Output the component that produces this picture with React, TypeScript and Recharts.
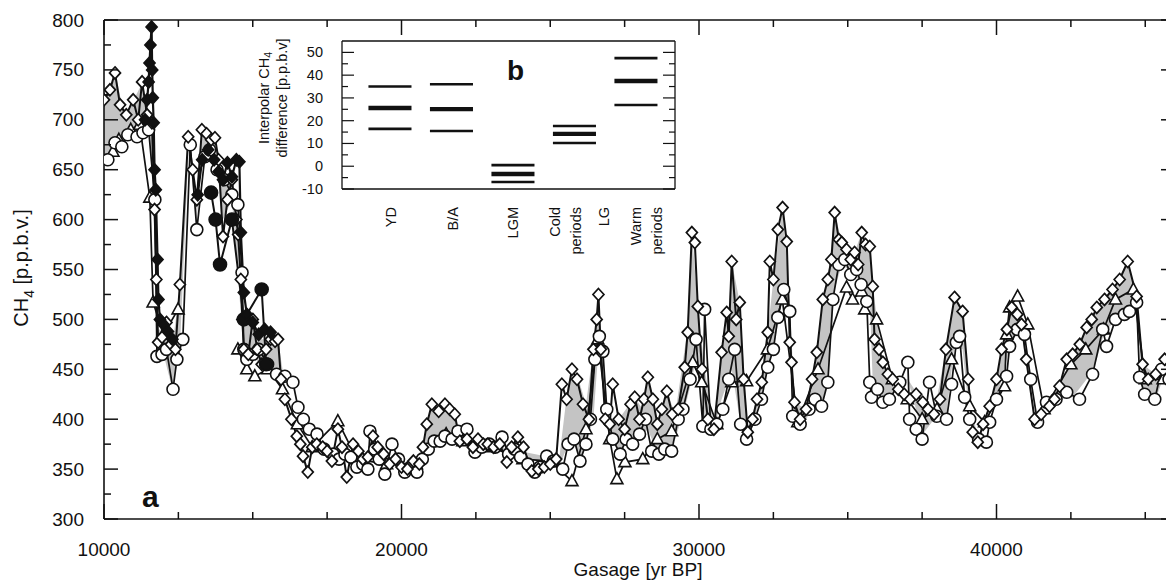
import React from 'react'
import { ComposedChart, Line, Area, XAxis, YAxis, ReferenceLine } from 'recharts'

const FONT = '"Liberation Sans", Arial, Helvetica, sans-serif'
const INK = '#111'

type Pt = [number, number | null]

// gas age [yr BP], CH4 [p.p.b.v.] -- Greenland record (open diamonds)
const greenland: Pt[] = [
  [10000, 720], [10200, 730], [10370, 747], [10540, 715], [10750, 705], [10980, 720], [11150, 700], [11280, 738],
  [11450, 705], [11610, 697], [11700, 610], [11760, 540], [11820, 477], [11950, 482], [12100, 497], [12250, 475],
  [12400, 470], [12550, 535], [12830, 683], [12980, 650], [13120, 620], [13290, 690], [13450, 686], [13600, 680],
  [13730, 682], [13850, 660], [14000, 583], [14150, 620], [14300, 640], [14450, 600], [14510, 585], [14600, 540],
  [14650, 500], [14700, 470], [14850, 465], [15000, 500], [15150, 470], [15300, 455], [15450, 470], [15600, 480],
  [15750, 478], [15850, 480], [15950, 440], [16080, 420], [16300, 400], [16480, 383], [16600, 375], [16690, 363],
  [16850, 347], [17000, 372], [17150, 375], [17350, 372], [17500, 368], [17660, 358], [17860, 390], [18000, 372],
  [18160, 342], [18370, 375], [18550, 368], [18700, 360], [18870, 362], [19040, 383], [19200, 372], [19400, 365],
  [19600, 355], [19800, 360], [20000, 352], [20200, 350], [20400, 358], [20600, 355], [20720, 372], [20850, 395],
  [21020, 415], [21250, 408], [21460, 415], [21620, 410], [21790, 405], [21960, 378], [22200, 380], [22400, 372],
  [22570, 380], [22750, 375], [22900, 375], [23100, 372], [23300, 375], [23540, 357], [23700, 372], [23910, 382],
  [24100, 372], [24380, 348], [24600, 350], [24800, 352], [25000, 355], [25200, 360], [25390, 435], [25550, 420],
  [25730, 450], [25900, 440], [26100, 415], [26300, 400], [26450, 470], [26560, 500], [26620, 525], [26700, 470],
  [26850, 400], [27000, 395], [27100, 435], [27300, 400], [27500, 390], [27700, 415], [27840, 422], [28000, 400],
  [28150, 420], [28280, 442], [28450, 420], [28600, 395], [28750, 410], [28920, 428], [29100, 405], [29300, 410],
  [29520, 452], [29620, 487], [29760, 587], [29860, 577], [29960, 513], [30100, 450], [30300, 400], [30500, 390],
  [30760, 467], [30930, 507], [31000, 483], [31100, 558], [31250, 500], [31370, 517], [31500, 440], [31640, 387],
  [31800, 400], [31950, 420], [32110, 437], [32310, 487], [32380, 558], [32500, 540], [32650, 590], [32810, 612],
  [32950, 578], [33050, 477], [33110, 457], [33210, 417], [33400, 400], [33600, 410], [33800, 440], [33960, 467],
  [34160, 520], [34330, 540], [34450, 560], [34560, 607], [34700, 580], [34800, 577], [34960, 570], [35100, 560],
  [35230, 567], [35350, 555], [35470, 587], [35600, 575], [35740, 573], [35840, 533], [35900, 480], [36050, 470],
  [36180, 457], [36350, 445], [36510, 440], [36700, 430], [36900, 425], [37100, 420], [37300, 425], [37520, 417],
  [37700, 410], [37900, 405], [38100, 420], [38300, 470], [38590, 522], [38860, 508], [39050, 440], [39200, 387],
  [39370, 377], [39550, 395], [39770, 413], [40000, 440], [40170, 470], [40350, 490], [40510, 512], [40700, 505],
  [40840, 495], [41000, 460], [41280, 400], [41500, 405], [41780, 413], [41950, 420], [42120, 433], [42360, 460],
  [42560, 465], [42800, 475], [43030, 492], [43200, 500], [43370, 512], [43630, 520], [43900, 530], [44140, 540],
  [44410, 558], [44710, 523], [44910, 455], [45100, 440], [45350, 445], [45650, 460], [46000, 455],
]

// high resolution Greenland data (filled diamonds)
const greenlandHiRes: Pt[] = [
  [11380, 700], [11450, 720], [11500, 738], [11530, 757], [11560, 775], [11600, 793], [11620, 750], [11640, 722],
  [11670, 697], [11700, 650], [11740, 630], [11800, 560], [11830, 520], [11880, 500], [12000, 495], [12150, 488],
  [12300, 480], [12700, null], [13150, 625], [13300, 660], [13500, 670], [13700, 660], [13850, 648], [14000, 640],
  [14150, 657], [14300, 643], [14450, 660], [14550, 658], [14600, 587], [14700, 527], [14800, 505], [15000, 497],
  [15200, 485], [15400, 490], [15600, 487],
]

// Antarctic record (open circles)
const antarctic: Pt[] = [
  [10130, 660], [10370, 677], [10600, 673], [10800, 685], [11110, 683], [11310, 687], [11500, 690], [11710, 620],
  [11780, 463], [11950, 465], [12100, 470], [12320, 430], [12450, 460], [12650, 480], [12900, 675], [13120, 590],
  [13390, 663], [13550, 670], [13800, 650], [14050, 640], [14300, 625], [14500, 615], [14640, 547], [14700, 470],
  [14800, 460], [15000, 465], [15200, 470], [15500, 455], [15800, 445], [16080, 443], [16350, 437], [16520, 412],
  [16700, 400], [16900, 390], [17160, 385], [17400, 370], [17700, 365], [17900, 360], [18100, 365], [18300, 362],
  [18500, 352], [18700, 355], [18870, 350], [18940, 388], [19100, 370], [19250, 360], [19440, 345], [19680, 375],
  [19900, 360], [20110, 347], [20300, 352], [20520, 347], [20700, 360], [20900, 370], [21100, 378], [21300, 378],
  [21460, 383], [21700, 380], [21900, 388], [22200, 390], [22470, 367], [22700, 372], [22950, 375], [23150, 372],
  [23380, 382], [23600, 365], [23800, 370], [24000, 362], [24250, 355], [24480, 347], [24650, 352], [24880, 363],
  [25100, 358], [25420, 350], [25600, 375], [25800, 380], [26000, 358], [26200, 375], [26350, 400], [26500, 460],
  [26650, 483], [26770, 468], [26900, 410], [27100, 380], [27350, 365], [27550, 380], [27770, 375], [28000, 385],
  [28200, 400], [28410, 368], [28650, 365], [28850, 370], [29080, 368], [29300, 400], [29460, 410], [29700, 440],
  [29900, 480], [30130, 393], [30190, 510], [30400, 390], [30600, 395], [30800, 410], [31000, 440], [31200, 470],
  [31400, 395], [31600, 380], [31880, 400], [32100, 420], [32310, 452], [32500, 470], [32650, 502], [32850, 530],
  [33050, 508], [33150, 403], [33400, 395], [33700, 410], [33900, 420], [34120, 413], [34330, 437], [34500, 520],
  [34700, 555], [34900, 560], [35100, 545], [35300, 550], [35450, 535], [35640, 518], [35740, 437], [35800, 422],
  [36000, 430], [36180, 417], [36400, 420], [36750, 437], [37020, 457], [37080, 400], [37300, 390], [37500, 380],
  [37750, 437], [37990, 403], [38320, 400], [38490, 435], [38650, 477], [38760, 483], [38930, 422], [39100, 400],
  [39400, 380], [39660, 377], [39770, 397], [40000, 420], [40340, 443], [40440, 473], [40700, 490], [40940, 485],
  [41150, 440], [41380, 397], [41680, 417], [42000, 420], [42360, 427], [42790, 420], [43230, 445], [43570, 490],
  [43700, 473], [44000, 500], [44300, 505], [44470, 508], [44710, 517], [44810, 442], [44980, 425], [45320, 420],
  [45550, 450], [45800, 440],
]

// high resolution Antarctic data (filled circles)
const antarcticHiRes: Pt[] = [
  [13600, 627], [13750, 600], [13900, 555], [14300, 600], [14700, 500], [15300, 530], [15450, 455],
]

// second Antarctic record (open triangles)
const antarctic2: Pt[] = [
  [10300, 668], [10500, 680], [10900, 690], [11200, 695], [11540, 622], [11650, 517], [12000, 485], [12490, 510],
  [13500, null], [14500, 470], [14800, 450], [15070, 443], [15500, 450], [16000, 430], [16500, 395], [17000, 372],
  [17860, 398], [18500, 360], [19500, 355], [20500, 355], [21500, 385], [22060, 378], [23000, 372], [24080, 360],
  [25000, 358], [25730, 338], [26200, 390], [26600, 480], [27000, 380], [27240, 340], [27510, 357], [28110, 360],
  [28600, 380], [29080, 388], [29790, 457], [30090, 437], [30600, 395], [31100, 437], [31600, 438], [32300, 470],
  [32800, 520], [33320, 397], [34000, 450], [34960, 532], [35160, 520], [35470, 528], [35570, 510], [35970, 500],
  [36500, 440], [37000, 420], [37500, 400], [38000, 410], [38490, 460], [39100, 413], [39600, 397], [40270, 433],
  [40340, 485], [40440, 512], [40710, 523], [41050, 495], [41600, 410], [42500, 455], [43000, 470], [43600, 490],
  [44000, 520], [44600, 530], [45000, 440], [45600, 440],
]

// interpolar gap shaded in grey: [year, Antarctic, Greenland]
const gapBand: [number, number, number][] = [
  [10000, 665, 720], [10200, 665, 730], [10400, 677, 745], [10600, 673, 715], [10800, 685, 705], [11000, 683, 720],
  [11300, 687, 738], [11500, 690, 705], [11650, 630, 690], [11800, 470, 490], [12000, 465, 490], [12300, 430, 475],
  [12550, 470, 530], [12850, 675, 683], [13100, 595, 625], [13300, 663, 690], [13600, 670, 682], [13800, 650, 670],
  [14000, 600, 640], [14300, 620, 645], [14500, 545, 600], [14700, 465, 500], [15000, 462, 500], [15300, 455, 480],
  [15600, 455, 480], [15850, 445, 480], [16100, 430, 430], [20700, 360, 360], [20850, 368, 395], [21000, 372, 415],
  [21460, 383, 415], [21800, 385, 405], [22000, 380, 380], [25300, 352, 360], [25600, 375, 435], [25730, 380, 450],
  [26000, 360, 435], [26200, 375, 415], [26450, 400, 470], [26620, 470, 520], [26800, 440, 450], [27000, 385, 395],
  [27300, 370, 400], [27840, 378, 422], [28100, 385, 410], [28280, 390, 442], [28600, 366, 400], [28920, 368, 428],
  [29200, 380, 405], [29600, 420, 487], [29760, 440, 587], [29960, 470, 513], [30190, 400, 450], [30500, 390, 395],
  [30760, 420, 467], [31000, 440, 510], [31100, 450, 558], [31370, 400, 517], [31640, 380, 390], [32110, 425, 437],
  [32310, 452, 487], [32500, 470, 540], [32810, 520, 612], [33050, 508, 520], [33210, 400, 417], [33600, 400, 410],
  [33960, 418, 467], [34160, 420, 520], [34330, 437, 540], [34560, 530, 607], [34800, 555, 577], [35230, 545, 567],
  [35470, 535, 587], [35740, 520, 573], [35840, 437, 533], [36180, 417, 457], [36510, 425, 440], [37020, 440, 440],
  [37520, 385, 417], [37900, 400, 405], [38300, 400, 470], [38590, 475, 522], [38860, 470, 508], [39050, 415, 440],
  [39370, 377, 377], [40000, 420, 440], [40510, 480, 512], [40840, 487, 495], [41280, 397, 400], [42120, 420, 433],
  [42560, 422, 465], [43030, 440, 492], [43370, 460, 512], [43630, 488, 520], [44140, 503, 540], [44410, 507, 558],
  [44710, 517, 523], [44910, 430, 455], [45350, 420, 445], [45650, 445, 460], [46000, 440, 455],
]

const yearTicks = [10000, 12500, 15000, 17500, 20000, 22500, 25000, 27500, 30000, 32500, 35000, 37500, 40000, 42500, 45000]
const yearLabels = [10000, 20000, 30000, 40000]
const ch4Ticks = [300, 325, 350, 375, 400, 425, 450, 475, 500, 525, 550, 575, 600, 625, 650, 675, 700, 725, 750, 775, 800]
const ch4Labels = [300, 350, 400, 450, 500, 550, 600, 650, 700, 750, 800]

// inset b: interpolar difference [p.p.b.v.], upper / mean / lower estimate
const insetCategories = ['YD', 'B/A', 'LGM', 'Cold periods', 'Warm periods']
const insetUpper = [35, 36, 0.5, 17.7, 47.5]
const insetMean = [25.6, 25.1, -3.4, 14.2, 37.4]
const insetLower = [16.4, 15.5, -6.9, 10.2, 26.9]
const insetLabels = ['YD', 'B/A', 'LGM', 'Cold periods', 'LG', 'Warm periods']
const insetLabelPos = [0.02, 1.02, 2.0, 2.85, 3.48, 4.17]
const diffTicks = [-10, -5, 0, 5, 10, 15, 20, 25, 30, 35, 40, 45, 50]
const diffLabels = [-10, 0, 10, 20, 30, 40, 50]

const rows = (pts: Pt[]) => pts.map(([year, ch4]) => ({ year, ch4 }))
const bandRows = gapBand.map(([year, low, high]) => ({ year, low, high }))

const marker = (kind: string) => (p: any) => {
  const { cx, cy, index, value } = p
  const key = `${kind}-${index}`
  if (cx == null || cy == null || value == null || Number.isNaN(cy)) return <g key={key} />
  if (kind === 'diamond' || kind === 'diamondFilled') {
    const filled = kind === 'diamondFilled'
    return (
      <path key={key} d={`M${cx},${cy - 6}L${cx + 5.5},${cy}L${cx},${cy + 6}L${cx - 5.5},${cy}Z`}
        fill={filled ? INK : '#fff'} stroke={INK} strokeWidth={1.7} />
    )
  }
  if (kind === 'triangle') {
    return (
      <path key={key} d={`M${cx},${cy - 6.5}L${cx + 6},${cy + 4.5}L${cx - 6},${cy + 4.5}Z`}
        fill="#fff" stroke={INK} strokeWidth={1.6} />
    )
  }
  const filled = kind === 'circleFilled'
  return <circle key={key} cx={cx} cy={cy} r={filled ? 6.5 : 6} fill={filled ? INK : '#fff'} stroke={INK} strokeWidth={1.6} />
}

const LeftTick = ({ x, y, payload }: any) => {
  const v = payload.value
  const major = ch4Labels.includes(v)
  return (
    <g>
      <line x1={x} x2={x + (major ? 14 : 7)} y1={y} y2={y} stroke={INK} strokeWidth={1.5} />
      {major && (
        <text x={x - 20} y={y} textAnchor="end" dominantBaseline="central" fontSize={19} fontFamily={FONT} fill={INK}>
          {v}
        </text>
      )}
    </g>
  )
}

const RightTick = ({ x, y, payload }: any) => {
  const major = ch4Labels.includes(payload.value)
  return <line x1={x} x2={x - (major ? 14 : 7)} y1={y} y2={y} stroke={INK} strokeWidth={1.5} />
}

const BottomTick = ({ x, y, payload }: any) => {
  const v = payload.value
  const major = yearLabels.includes(v)
  return (
    <g>
      <line x1={x} x2={x} y1={y} y2={y - (major ? 15 : 7)} stroke={INK} strokeWidth={1.5} />
      {major && (
        <text x={x} y={y + 30} textAnchor="middle" dominantBaseline="central" fontSize={19} fontFamily={FONT} fill={INK}>
          {v}
        </text>
      )}
    </g>
  )
}

const TopTick = ({ x, y, payload }: any) => {
  const major = yearLabels.includes(payload.value)
  return <line x1={x} x2={x} y1={y} y2={y + (major ? 15 : 7)} stroke={INK} strokeWidth={1.5} />
}

const InsetLeftTick = ({ x, y, payload }: any) => {
  const v = payload.value
  const major = diffLabels.includes(v)
  return (
    <g>
      <line x1={x} x2={x + (major ? 12 : 6)} y1={y} y2={y} stroke={INK} strokeWidth={1.2} />
      {major && (
        <text x={x - 19} y={y} textAnchor="end" dominantBaseline="central" fontSize={14.5} fontFamily={FONT} fill={INK}>
          {v}
        </text>
      )}
    </g>
  )
}

const InsetRightTick = ({ x, y, payload }: any) => {
  const major = diffLabels.includes(payload.value)
  return <line x1={x} x2={x - (major ? 12 : 6)} y1={y} y2={y} stroke={INK} strokeWidth={1.2} />
}

const InsetLabelTick = ({ x, y, index }: any) => {
  const words = (insetLabels[index] || '').split(' ')
  return (
    <g>
      {words.map((w, i) => (
        <text key={i} transform={`translate(${x + (i - (words.length - 1) / 2) * 21},${y + 18}) rotate(-90)`}
          textAnchor="end" dominantBaseline="central" fontSize={14.5} fontFamily={FONT} fill={INK}>
          {w}
        </text>
      ))}
    </g>
  )
}

const axisLine = { stroke: INK, strokeWidth: 1.6 }

export default function App() {
  return (
    <div style={{ position: 'absolute', left: 0, top: 0, width: 1166, height: 582, overflow: 'hidden', background: '#fff' }}>
      <ComposedChart width={1176} height={582} margin={{ top: 19, right: 0, bottom: 0, left: 0 }}>
        <XAxis xAxisId="b" dataKey="year" type="number" domain={[10000, 46000]} allowDataOverflow ticks={yearTicks}
          interval={0} tick={<BottomTick />} tickLine={false} tickSize={0} tickMargin={0} height={63} axisLine={axisLine} />
        <XAxis xAxisId="t" orientation="top" dataKey="year" type="number" domain={[10000, 46000]} allowDataOverflow
          ticks={yearTicks} interval={0} tick={<TopTick />} tickLine={false} tickSize={0} tickMargin={0} height={1} axisLine={axisLine} />
        <YAxis yAxisId="l" type="number" domain={[300, 800]} allowDataOverflow ticks={ch4Ticks} interval={0}
          tick={<LeftTick />} tickLine={false} tickSize={0} tickMargin={0} width={104} axisLine={axisLine} />
        <YAxis yAxisId="r" orientation="right" type="number" domain={[300, 800]} allowDataOverflow ticks={ch4Ticks}
          interval={0} tick={<RightTick />} tickLine={false} tickSize={0} tickMargin={0} width={1} axisLine={axisLine} />

        <Area xAxisId="b" yAxisId="l" data={bandRows} dataKey={(d: any) => [d.low, d.high]} type="linear"
          fill="#c4c4c4" fillOpacity={1} stroke="none" isAnimationActive={false} activeDot={false} />

        <Line xAxisId="b" yAxisId="l" data={rows(antarctic2)} dataKey="ch4" type="linear" stroke={INK} strokeWidth={1.7}
          dot={marker('triangle')} activeDot={false} isAnimationActive={false} />
        <Line xAxisId="b" yAxisId="l" data={rows(antarctic)} dataKey="ch4" type="linear" stroke={INK} strokeWidth={1.7}
          dot={marker('circle')} activeDot={false} isAnimationActive={false} />
        <Line xAxisId="b" yAxisId="l" data={rows(greenland)} dataKey="ch4" type="linear" stroke={INK} strokeWidth={2}
          dot={marker('diamond')} activeDot={false} isAnimationActive={false} />
        <Line xAxisId="b" yAxisId="l" data={rows(antarcticHiRes)} dataKey="ch4" type="linear" stroke={INK} strokeWidth={2}
          dot={marker('circleFilled')} activeDot={false} isAnimationActive={false} />
        <Line xAxisId="b" yAxisId="l" data={rows(greenlandHiRes)} dataKey="ch4" type="linear" stroke={INK} strokeWidth={2.2}
          dot={marker('diamondFilled')} activeDot={false} isAnimationActive={false} />
      </ComposedChart>

      {/* inset b */}
      <div style={{ position: 'absolute', left: 240, top: 30 }}>
        <ComposedChart width={450} height={240} margin={{ top: 10, right: 14, bottom: 0, left: 0 }}>
          <XAxis xAxisId="b" type="number" dataKey="x" domain={[-0.78, 4.635]} allowDataOverflow ticks={insetLabelPos}
            interval={0} tick={<InsetLabelTick />} tickLine={false} tickSize={0} tickMargin={0} height={81}
            axisLine={{ stroke: INK, strokeWidth: 1.3 }} />
          <XAxis xAxisId="t" orientation="top" type="number" dataKey="x" domain={[-0.78, 4.635]} allowDataOverflow
            tick={false} tickLine={false} height={1} axisLine={{ stroke: INK, strokeWidth: 1.3 }} />
          <YAxis yAxisId="l" type="number" domain={[-10, 55]} allowDataOverflow ticks={diffTicks} interval={0}
            tick={<InsetLeftTick />} tickLine={false} tickSize={0} tickMargin={0} width={102}
            axisLine={{ stroke: INK, strokeWidth: 1.3 }} />
          <YAxis yAxisId="r" orientation="right" type="number" domain={[-10, 55]} allowDataOverflow ticks={diffTicks}
            interval={0} tick={<InsetRightTick />} tickLine={false} tickSize={0} tickMargin={0} width={1}
            axisLine={{ stroke: INK, strokeWidth: 1.3 }} />
          {insetCategories.map((c, i) =>
            [
              { v: insetUpper[i], w: 2.6 },
              { v: insetMean[i], w: 4.4 },
              { v: insetLower[i], w: 2.6 },
            ].map((s, j) => (
              <ReferenceLine key={`${c}-${j}`} xAxisId="b" yAxisId="l" ifOverflow="visible"
                segment={[{ x: i - 0.35, y: s.v }, { x: i + 0.35, y: s.v }]} stroke={INK} strokeWidth={s.w} />
            ))
          )}
        </ComposedChart>
      </div>

      <svg width={1166} height={582} style={{ position: 'absolute', left: 0, top: 0, pointerEvents: 'none' }}>
        <text x={142} y={507} fontSize={30} fontWeight="bold" fontFamily={FONT} fill={INK}>a</text>
        <text x={507} y={80} fontSize={28} fontWeight="bold" fontFamily={FONT} fill={INK}>b</text>
        <text transform="translate(28,268) rotate(-90)" textAnchor="middle" fontSize={20} fontFamily={FONT} fill={INK}>
          CH<tspan fontSize={14} dy={6}>4</tspan><tspan dy={-6}> [p.p.b.v.]</tspan>
        </text>
        <text x={638} y={576} textAnchor="middle" fontSize={19} fontFamily={FONT} fill={INK}>Gasage [yr BP]</text>
        <text transform="translate(264,98) rotate(-90)" textAnchor="middle" dominantBaseline="central" fontSize={14.5}
          fontFamily={FONT} fill={INK}>
          Interpolar CH<tspan fontSize={10.5} dy={4}>4</tspan>
        </text>
        <text transform="translate(282,98) rotate(-90)" textAnchor="middle" dominantBaseline="central" fontSize={14.5}
          fontFamily={FONT} fill={INK}>
          difference [p.p.b.v]
        </text>
      </svg>
    </div>
  )
}
